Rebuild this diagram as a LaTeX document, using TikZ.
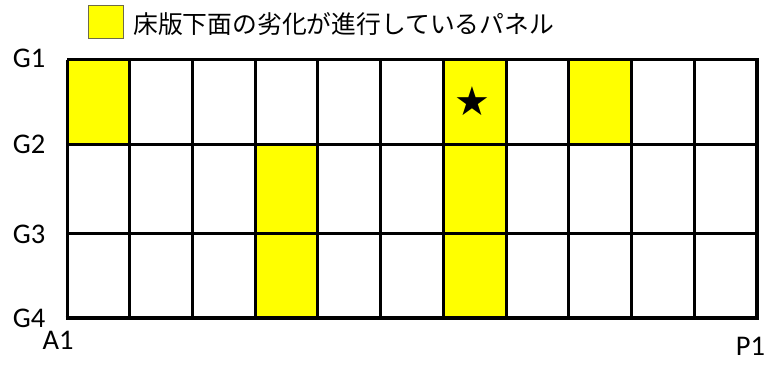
\documentclass[tikz,border=0pt]{standalone}
\usepackage{fontspec}
\setmainfont{Carlito}
\newfontfamily\jpfont{Noto Sans CJK JP}
\newfontfamily\symfont{DejaVu Sans}
\definecolor{panelyellow}{HTML}{FFFF00}
\begin{document}
\begin{tikzpicture}[x=1pt,y=-1pt,
  panel/.style={fill=panelyellow},
  gridline/.style={line width=3pt},
  outerline/.style={line width=4pt},
  lbl/.style={font=\fontsize{28.5}{28.5}\selectfont, inner sep=0pt},
  legendbox/.style={draw=black!65!yellow, line width=1pt, fill=panelyellow, minimum width=35pt, minimum height=33pt, inner sep=0pt}]
\useasboundingbox (0,0) rectangle (776,366);
\def\cw{62.727}
% yellow panels
\fill[panel] (67,60) rectangle (67+\cw,145);
\fill[panel] (67+6*\cw,60) rectangle (67+7*\cw,318);
\fill[panel] (67+8*\cw,60) rectangle (67+9*\cw,145);
\fill[panel] (67+3*\cw,145) rectangle (67+4*\cw,318);
% grid lines
\foreach \i in {1,...,10} {
  \draw[gridline] (67+\i*\cw,60) -- (67+\i*\cw,318);
}
\draw[gridline] (67,145) -- (757,145);
\draw[gridline] (67,233) -- (757,233);
\draw[gridline] (67,60) -- (757,60);
\draw[gridline] (67,60) -- (67,318);
\draw[outerline] (757,58.5) -- (757,318);
\draw[outerline] (65.5,318) -- (759,318);
% star
\node[inner sep=0pt, font=\symfont\fontsize{40}{40}\selectfont] (star) at (472.5,101.5) {★};
% legend
\node[legendbox] (legkey) at (105.5,22.5) {};
\node[anchor=west, inner sep=0pt, font=\jpfont\fontsize{24.8}{24.8}\selectfont] (legtext) at (133,24) {床版下面の劣化が進行しているパネル};
% labels
\node[lbl] (g1) at (29,58.5) {G1};
\node[lbl] (g2) at (29,144.5) {G2};
\node[lbl] (g3) at (29,234) {G3};
\node[lbl] (g4) at (29,318) {G4};
\node[lbl] (a1) at (58,340) {A1};
\node[lbl] (p1) at (750.5,346) {P1};
\end{tikzpicture}
\end{document}
